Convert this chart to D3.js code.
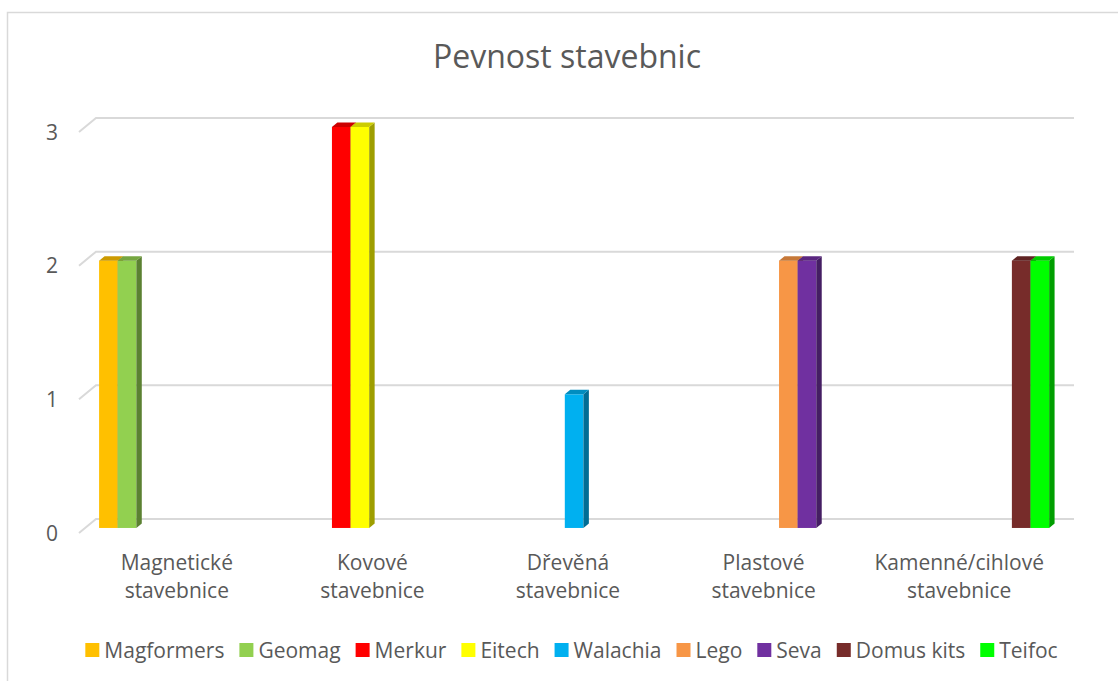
<!DOCTYPE html>
<html>
<head>
<meta charset="utf-8">
<script src="https://cdn.jsdelivr.net/npm/d3@7"></script>
<style>
  body { margin: 0; background: #fff; }
  text { font-family: "Open Sans", sans-serif; fill: #595959; }
</style>
</head>
<body>
<div id="chart"></div>
<script>
// chart data
var categories = ["Magnetické stavebnice", "Kovové stavebnice", "Dřevěná stavebnice", "Plastové stavebnice", "Kamenné/cihlové stavebnice"];
var seriesNames = ["Magformers", "Geomag", "Merkur", "Eitech", "Walachia", "Lego", "Seva", "Domus kits", "Teifoc"];
var seriesColors = ["#FFC000", "#92D050", "#FF0000", "#FFFF00", "#00B0F0", "#F79646", "#7030A0", "#772C2A", "#00FF00"];
var magformers = [2, 0, 0, 0, 0];
var geomag     = [2, 0, 0, 0, 0];
var merkur     = [0, 3, 0, 0, 0];
var eitech     = [0, 3, 0, 0, 0];
var walachia   = [0, 0, 1, 0, 0];
var lego       = [0, 0, 0, 2, 0];
var seva       = [0, 0, 0, 2, 0];
var domusKits  = [0, 0, 0, 0, 2];
var teifoc     = [0, 0, 0, 0, 2];
var yTicks = [0, 1, 2, 3];

var seriesValues = [magformers, geomag, merkur, eitech, walachia, lego, seva, domusKits, teifoc];

var width = 1118, height = 681;
var front = {left: 79, right: 1057, top: 132, bottom: 533};
var depth = {x: 17, y: -14};           // floor depth of the 3D box
var barFront = 0.36, barBack = 0.68;   // where the bars sit inside the depth

var svg = d3.select("#chart").append("svg")
    .attr("width", width)
    .attr("height", height);

// chart area border
svg.append("rect")
    .attr("x", 7.5).attr("y", 12.5)
    .attr("width", 1300).attr("height", 900)
    .attr("fill", "none")
    .attr("stroke", "#d9d9d9")
    .attr("stroke-width", 1.5);

// scales
var x0 = d3.scaleBand()
    .domain(categories)
    .range([front.left, front.right])
    .paddingInner(0).paddingOuter(0);

var x1 = d3.scaleBand()
    .domain(seriesNames)
    .range([0, x0.bandwidth()])
    .paddingInner(0).paddingOuter(0.75);

var y = d3.scaleLinear().domain([0, 3]).range([front.bottom, front.top]);

// gridlines (side wall diagonal + back wall)
svg.append("g")
    .selectAll("path")
    .data(yTicks)
    .enter().append("path")
    .attr("d", function(d) {
        return "M" + front.left + "," + y(d) +
            "L" + (front.left + depth.x) + "," + (y(d) + depth.y) +
            "L" + (front.right + depth.x) + "," + (y(d) + depth.y);
    })
    .attr("fill", "none")
    .attr("stroke", "#d9d9d9")
    .attr("stroke-width", 2);

// y labels
svg.append("g")
    .selectAll("text")
    .data(yTicks)
    .enter().append("text")
    .attr("x", 58)
    .attr("y", function(d) { return y(d); })
    .attr("dy", "0.36em")
    .attr("text-anchor", "end")
    .style("font-size", "21px")
    .text(function(d) { return d; });

// bars
var bars = [];
seriesValues.forEach(function(vals, si) {
    vals.forEach(function(v, ci) {
        if (v > 0) bars.push({cat: categories[ci], series: seriesNames[si], color: seriesColors[si], value: v});
    });
});

function shade(c, k) {
    var r = d3.rgb(c);
    return d3.rgb(r.r * k, r.g * k, r.b * k).toString();
}

var fdx = depth.x * barFront, fdy = depth.y * barFront;
var bdx = depth.x * (barBack - barFront), bdy = depth.y * (barBack - barFront);

var barG = svg.append("g")
    .selectAll("g")
    .data(bars)
    .enter().append("g");

barG.each(function(d) {
    var g = d3.select(this);
    var xl = x0(d.cat) + x1(d.series) + fdx,
        xr = xl + x1.bandwidth(),
        yb = y(0) + fdy,
        yt = y(d.value) + fdy;
    // front
    g.append("rect")
        .attr("x", xl).attr("y", yt)
        .attr("width", xr - xl).attr("height", yb - yt)
        .attr("fill", d.color);
    // side
    g.append("path")
        .attr("d", "M" + xr + "," + yb + "L" + (xr + bdx) + "," + (yb + bdy) +
            "L" + (xr + bdx) + "," + (yt + bdy) + "L" + xr + "," + yt + "Z")
        .attr("fill", shade(d.color, 0.62));
    // top
    g.append("path")
        .attr("d", "M" + xl + "," + yt + "L" + (xl + bdx) + "," + (yt + bdy) +
            "L" + (xr + bdx) + "," + (yt + bdy) + "L" + xr + "," + yt + "Z")
        .attr("fill", shade(d.color, 0.8));
});

// category labels
var catG = svg.append("g")
    .selectAll("text")
    .data(categories)
    .enter().append("text")
    .attr("text-anchor", "middle")
    .style("font-size", "21px");

catG.each(function(d) {
    var t = d3.select(this);
    var cx = x0(d) + x0.bandwidth() / 2;
    d.split(" ").forEach(function(word, i) {
        t.append("tspan")
            .attr("x", cx)
            .attr("y", 570 + i * 28)
            .text(word);
    });
});

// title
svg.append("text")
    .attr("x", 567)
    .attr("y", 68)
    .attr("text-anchor", "middle")
    .style("font-size", "32px")
    .text("Pevnost stavebnic");

// legend
var legend = svg.append("g");
var items = legend.selectAll("g")
    .data(seriesNames)
    .enter().append("g");

items.append("rect")
    .attr("width", 14).attr("height", 14)
    .attr("y", 643)
    .attr("fill", function(d, i) { return seriesColors[i]; });

items.append("text")
    .attr("x", 19)
    .attr("y", 650)
    .attr("dy", "0.36em")
    .style("font-size", "21px")
    .text(function(d) { return d; });

var gap = 15;
var offsets = [], pos = 0;
items.each(function() {
    offsets.push(pos);
    pos += 19 + d3.select(this).select("text").node().getComputedTextLength() + gap;
});
var total = pos - gap;
var startX = 571.5 - total / 2;
items.attr("transform", function(d, i) { return "translate(" + (startX + offsets[i]) + ",0)"; });
</script>
</body>
</html>
